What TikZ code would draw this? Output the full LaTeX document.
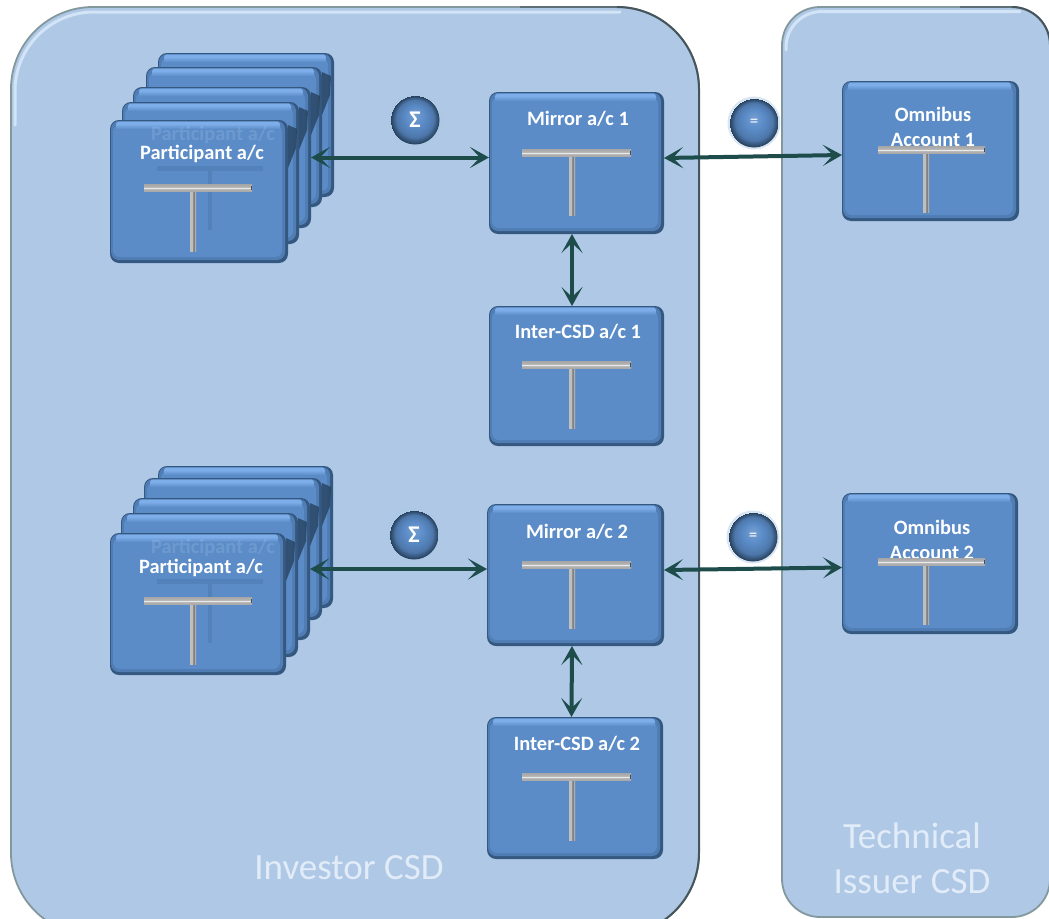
\documentclass[tikz,border=0pt]{standalone}
\usepackage{fontspec}
\setmainfont{Carlito}
\usetikzlibrary{arrows.meta,calc,shadings}
\definecolor{panelfill}{HTML}{AEC8E6}
\definecolor{paneledge}{HTML}{82989C}
\definecolor{paneldark}{HTML}{46555B}
\definecolor{panelhigh}{HTML}{D2E4F6}
\definecolor{boxfill}{HTML}{5B8CC8}
\definecolor{boxdark}{HTML}{34587F}
\definecolor{boxlight}{HTML}{7DAEEA}
\definecolor{linkc}{HTML}{1D4C4B}
\definecolor{paneltext}{HTML}{E2ECF8}
\pgfdeclarehorizontalshading{vbarshade}{100bp}{color(0bp)=(white!75!black);color(45bp)=(white!75!black);color(50bp)=(white!55!black);color(58bp)=(white!50!black);color(70bp)=(white!75!black);color(100bp)=(white!75!black)}
\pgfdeclareverticalshading{hbarshade}{100bp}{color(0bp)=(white!60!black);color(42bp)=(white!70!black);color(50bp)=(white!92!black);color(58bp)=(white!70!black);color(100bp)=(white!60!black)}
\pgfdeclareradialshading{ballshade}{\pgfpoint{0bp}{6bp}}{color(0bp)=(boxfill!85!white);color(10bp)=(boxfill);color(19bp)=(boxfill!85!black);color(25bp)=(boxdark!70!black)}
\pgfdeclareverticalshading{topshade}{100bp}{color(0bp)=(boxfill);color(45bp)=(boxfill);color(65bp)=(boxlight);color(100bp)=(boxlight)}
\tikzset{
  x=1pt,y=-1pt,
  panelbox/.style={draw=paneledge,line width=1.8pt,fill=panelfill},
  paneldarkedge/.style={draw=paneldark,line width=2pt},
  panelmid/.style={draw=paneldark!60!paneledge,line width=1.9pt},
  panelglint/.style={draw=panelhigh,line width=3pt,line cap=round},
  acctbox/.style={rectangle,rounded corners=9pt,fill=boxdark,inner sep=0pt,outer sep=0pt},
  acctinner/.style={fill=boxfill,rounded corners=7pt},
  accttop/.style={shading=topshade,rounded corners=3pt},
  acctlabel/.style={text=white,font=\bfseries\fontsize{20.4}{24}\selectfont,inner sep=0pt,align=center},
  ghostlabel/.style={text=white,opacity=.12,font=\bfseries\fontsize{20.4}{24}\selectfont,inner sep=0pt},
  panellabel/.style={text=paneltext,font=\fontsize{37}{45}\selectfont,align=center,inner sep=0pt},
  link/.style={draw=linkc,line width=4pt,{Stealth[length=19pt,width=21pt,inset=10pt]}-{Stealth[length=19pt,width=21pt,inset=10pt]}},
  ball/.style={circle,minimum size=49pt,inner sep=0pt,shading=ballshade,text=white,font=\bfseries\fontsize{24}{26}\selectfont},
  eqball/.style={ball,font=\fontsize{17}{20}\selectfont},
  glow/.style={circle,minimum size=53pt,inner sep=0pt,fill=white!55!cyan!30!panelfill,opacity=.45},
}
% name, x1, y1, x2, y2
\newcommand{\acctshape}[5]{%
  \node[acctbox,minimum width={#4-#2 pt},minimum height={#5-#3 pt}] (#1) at ({(#2+#4)/2},{(#3+#5)/2}) {};
  \fill[boxfill!72!boxdark,rounded corners=8pt] ($(#1.north west)+(1,1)$) rectangle ($(#1.south east)+(-3,-3)$);
  \fill[acctinner] ($(#1.north west)+(3,5)$) rectangle ($(#1.south east)+(-6,-6)$);
  \shade[accttop] ($(#1.north west)+(6,1.5)$) rectangle ($(#1.north east)+(-8,14)$);
}
% dark shadow thrown by a stacked box on the one behind it
\newcommand{\stackshadow}[1]{%
  \fill[boxdark!70!black,opacity=.75] ($(#1.north east)+(0,5)$) -- ($(#1.north east)+(9,9)$) -- ($(#1.north east)+(8,28)$) -- ($(#1.north east)+(0,48)$) -- cycle;
}
% x1 x2 ybar xstem ybottom
\newcommand{\tee}[5]{%
  \shade[shading=vbarshade] ({#4-3},{#3+3}) rectangle ({#4+3},#5);
  \shade[shading=hbarshade] (#1,{#3-3.5}) rectangle (#2,{#3+3.5});
  \fill[black!70] ({#2-1.5},{#3-2.2}) rectangle (#2,{#3+2.2});
}
\newcommand{\ghosttee}[4]{%
  \fill[boxdark,opacity=.18] (#1,{#3-2.5}) rectangle (#2,{#3+2.5});
  \fill[boxdark,opacity=.18] ({(#1+#2)/2-2},{#3+2.5}) rectangle ({(#1+#2)/2+2},#4);
}
\begin{document}
\begin{tikzpicture}
\useasboundingbox (0,0) rectangle (1049,918);
\clip (0,0) rectangle (1049,918);
\fill[white] (0,0) rectangle (1049,918);
% panels
\draw[panelbox,rounded corners=82pt] (11,7) rectangle (699,935);
\draw[panelmid] (520,7) -- (617,7);
\draw[paneldarkedge,rounded corners=82pt] (617,7) -- (699,7) -- (699,935) -- (500,935);
\draw[panelglint,rounded corners=79pt] (15,125) -- (15,12) -- (620,12);
\draw[panelbox,rounded corners=38pt] (782,7) rectangle (1050,917);
\draw[panelmid] (960,7) -- (1012,7);
\draw[paneldarkedge,rounded corners=38pt] (1012,7) -- (1050,7) -- (1050,100);
\draw[panelglint,rounded corners=36pt] (786,50) -- (786,11.5) -- (1020,11.5);
% upper stack
\acctshape{pa5}{158}{53}{334}{197}
\acctshape{pa4}{146}{67}{322}{207}\stackshadow{pa4}
\acctshape{pa3}{133}{87}{311}{228}\stackshadow{pa3}
\acctshape{pa2}{122}{102}{299}{244}\stackshadow{pa2}
\acctshape{pa1}{110}{120}{288}{263}\stackshadow{pa1}
\node[ghostlabel] (pa3t) at (213,135) {Participant a/c};
\ghosttee{157}{263}{168}{230}
\node[acctlabel] (pa1t) at (202,154) {Participant a/c};
\tee{144}{252}{188}{193}{251}
% lower stack
\acctshape{pb5}{158}{466}{333}{608}
\acctshape{pb4}{144}{478}{322}{620}\stackshadow{pb4}
\acctshape{pb3}{133}{498}{310}{640}\stackshadow{pb3}
\acctshape{pb2}{121}{513}{298}{657}\stackshadow{pb2}
\acctshape{pb1}{110}{533}{286}{675}\stackshadow{pb1}
\node[ghostlabel] (pb3t) at (213,548) {Participant a/c};
\ghosttee{157}{263}{581}{643}
\node[acctlabel] (pb1t) at (201,568) {Participant a/c};
\tee{144}{252}{601}{193}{664}
% middle column
\acctshape{ma1}{489}{92}{664}{234}
\node[acctlabel] (ma1t) at (578,119) {Mirror a/c 1};
\tee{522}{631}{153}{572}{215}
\acctshape{in1}{489}{306}{664}{446}
\node[acctlabel] (in1t) at (578,332) {Inter-CSD a/c 1};
\tee{522}{631}{365}{572}{428}
\acctshape{ma2}{487}{504}{664}{646}
\node[acctlabel] (ma2t) at (577,532) {Mirror a/c 2};
\tee{522}{631}{565}{572}{628}
\acctshape{in2}{487}{717}{663}{859}
\node[acctlabel] (in2t) at (577,744) {Inter-CSD a/c 2};
\tee{522}{631}{777}{572}{840}
% omnibus
\acctshape{om1}{842}{81}{1019}{221}
\node[acctlabel] (om1a) at (933,114) {Omnibus};
\node[acctlabel] (om1b) at (933,140) {Account 1};
\tee{878}{985}{150}{926}{212}
\acctshape{om2}{842}{493}{1018}{634}
\node[acctlabel] (om2a) at (932,527) {Omnibus};
\node[acctlabel] (om2b) at (932,553) {Account 2};
\tee{878}{985}{562}{926}{624}
% balls
\node[glow] (g1) at (415,120) {};
\node[ball] (s1) at (415,120) {Σ};
\node[glow] (g2) at (754,123) {};
\node[eqball] (e1) at (754,123) {=};
\node[glow] (g3) at (414,535) {};
\node[ball] (s2) at (414,535) {Σ};
\node[glow] (g4) at (753,537) {};
\node[eqball] (e2) at (753,537) {=};
% connectors
\draw[link] (pa3.east) -- (pa3.east -| ma1.west);
\draw[link] ([yshift=5pt]ma1.east) -- ([yshift=-4pt]om1.west);
\draw[link] ([xshift=-4.5pt]ma1.south) -- ([xshift=-4.5pt]in1.north);
\draw[link] (pb3.east) -- (pb3.east -| ma2.west);
\draw[link] ([yshift=5pt]ma2.east) -- ([yshift=-4pt]om2.west);
\draw[link] ([xshift=-3.5pt]ma2.south) -- ([xshift=-3.5pt]in2.north);
% panel labels
\node[panellabel] (inv) at (349,868) {Investor CSD};
\node[panellabel] (tec) at (912,858) {Technical\\Issuer CSD};
\end{tikzpicture}
\end{document}
